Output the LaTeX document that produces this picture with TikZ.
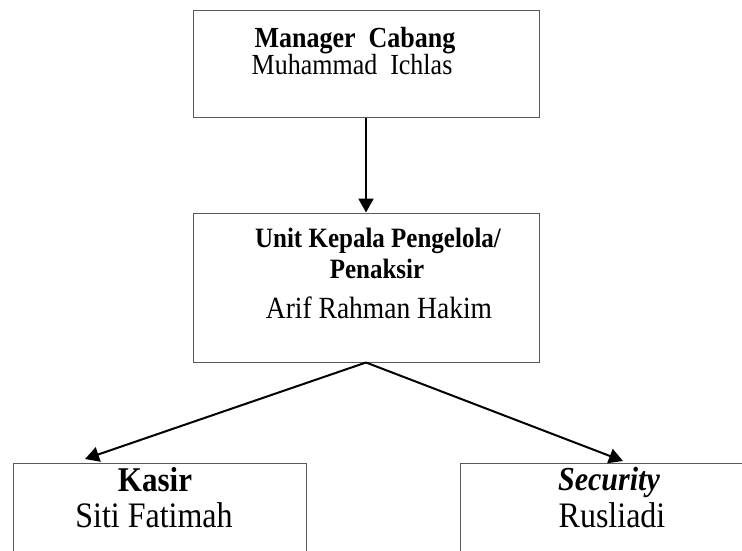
\documentclass[tikz,border=0pt]{standalone}
\usepackage{fontspec}
\setmainfont{Liberation Serif}
\usetikzlibrary{arrows.meta}
\newcommand{\tall}[1]{\scalebox{1}[1.12]{#1}}
\begin{document}
\begin{tikzpicture}[x=1pt,y=-1pt,
  box/.style={draw=black!65,line width=1pt,rectangle,inner sep=0pt},
  txt/.style={anchor=base,inner sep=0pt,outer sep=0pt},
  conn/.style={line width=2pt,-{Triangle[length=14pt,width=15pt]}}]
\useasboundingbox (0,0) rectangle (742,551);
\node[box,minimum width=346pt,minimum height=106pt] (top) at (366,64) {};
\node[box,minimum width=346pt,minimum height=149pt] (mid) at (366,287.5) {};
\node[box,minimum width=293pt,minimum height=137pt] (kas) at (159.5,531.5) {};
\node[box,minimum width=340pt,minimum height=137pt] (sec) at (630,531.5) {};
% texts
\node[txt,font=\fontsize{26}{28}\selectfont\bfseries] (t1) at (355,48) {\tall{Manager\ \ Cabang}};
\node[txt,font=\fontsize{26}{28}\selectfont] (t2) at (352,75) {\tall{Muhammad\ \ Ichlas}};
\node[txt,font=\fontsize{25}{28}\selectfont\bfseries] (m1) at (378,247) {\tall{Unit Kepala Pengelola/}};
\node[txt,font=\fontsize{25}{28}\selectfont\bfseries] (m2) at (377,278) {\tall{Penaksir}};
\node[txt,font=\fontsize{27.5}{29}\selectfont] (m3) at (379,318) {\tall{Arif Rahman Hakim}};
\node[txt,font=\fontsize{31}{33}\selectfont\bfseries] (k1) at (155,491) {\tall{Kasir}};
\node[txt,font=\fontsize{32}{33}\selectfont] (k2) at (154,527) {\tall{Siti Fatimah}};
\node[txt,font=\fontsize{30}{32}\selectfont\bfseries\itshape] (s1) at (609,490) {\tall{Security}};
\node[txt,font=\fontsize{32}{34}\selectfont] (s2) at (612,527) {\tall{Rusliadi}};
% connectors
\coordinate (kasTip) at (85,459);
\coordinate (secTip) at (623,461);
\draw[conn] (top.south) -- (mid.north);
\draw[conn] (mid.south) -- (kasTip);
\draw[conn] (mid.south) -- (secTip);
\end{tikzpicture}
\end{document}
